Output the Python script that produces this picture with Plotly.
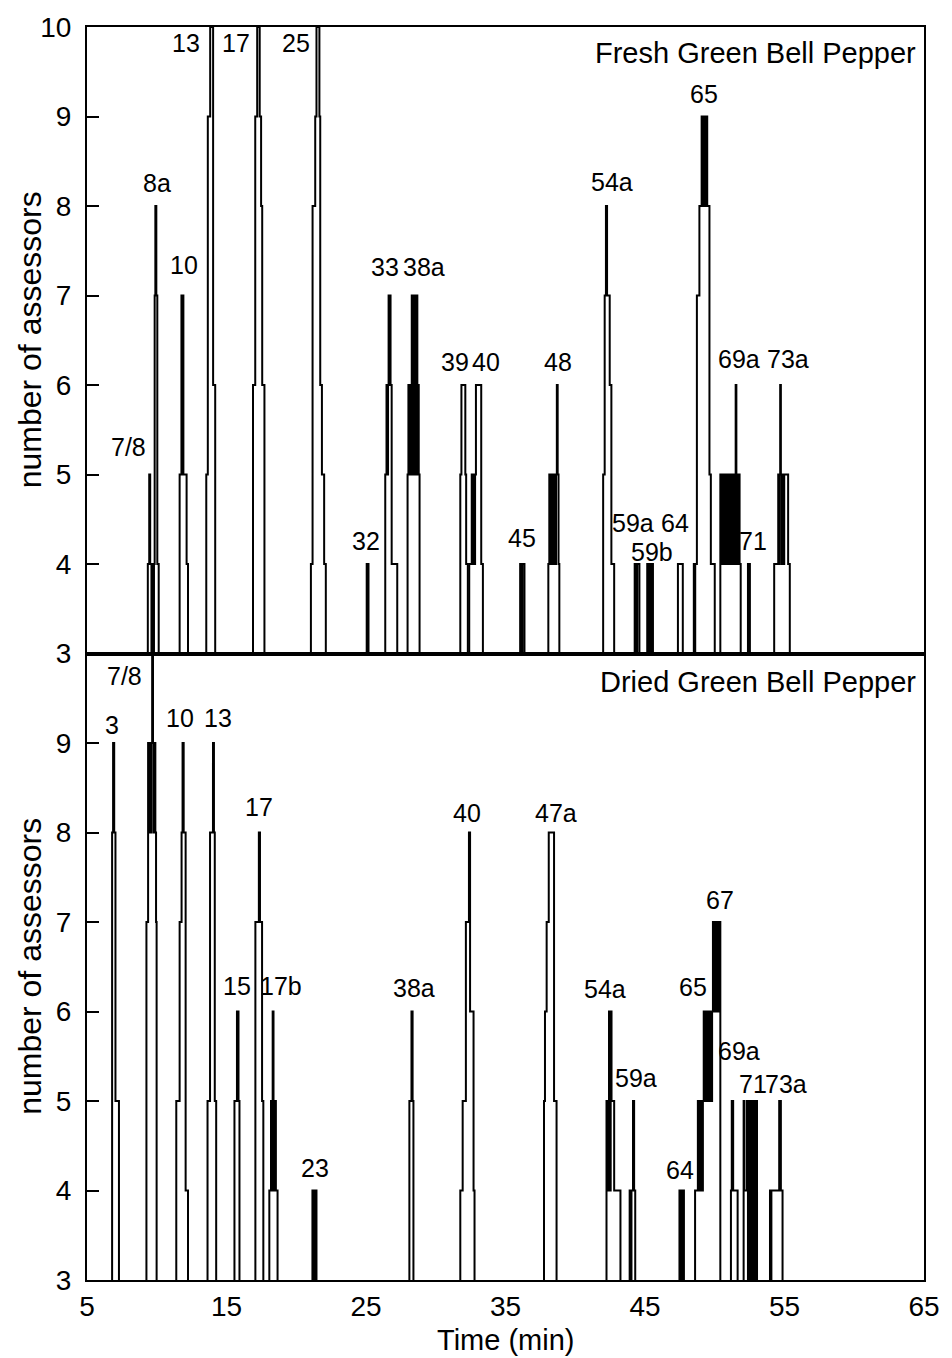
import plotly.graph_objects as go
from plotly.subplots import make_subplots

# Aromagrams: number of assessors detecting an odour vs. retention time.
# Each peak is a step function: at each time (min) the assessor count changes
# to the value given in the matching counts list (last value returns to 0).

# ---- Fresh green bell pepper ----
fresh_times = [
    [9.36, 9.46, 9.53, 9.62, 9.68, 9.76],                                   # 7/8
    [9.8, 9.85, 9.9, 9.97, 10.04, 10.14],                                   # 8a
    [11.64, 11.77, 11.91, 12.14, 12.24],                                    # 10
    [13.55, 13.66, 13.83, 14.04, 14.19],                                    # 13
    [16.9, 17.06, 17.2, 17.38, 17.48, 17.56, 17.72],                        # 17
    [21.05, 21.17, 21.36, 21.45, 21.66, 21.72, 21.84, 22.0, 22.12],         # 25
    [25.05, 25.18],                                                         # 32
    [26.38, 26.47, 26.52, 26.58, 26.62, 26.76, 26.84, 27.24],               # 33
    [27.98, 28.04, 28.1, 28.16, 28.22, 28.28, 28.36, 28.44, 28.52, 28.6,
     28.68, 28.74, 28.78, 28.84],                                           # 38a
    [31.76, 31.84, 32.12, 32.18, 32.3],                                     # 39
    [32.4, 32.58, 32.64, 32.7, 32.76, 32.82, 32.88, 33.26, 33.38],          # 40
    [36.05, 36.14, 36.21, 36.36],                                           # 45
    [38.07, 38.14, 38.2, 38.26, 38.32, 38.38, 38.44, 38.5, 38.56, 38.62,
     38.68, 38.74, 38.8, 38.86],                                            # 48
    [42.0, 42.11, 42.2, 42.28, 42.47, 42.59, 42.79],                        # 54a
    [44.26, 44.36, 44.44, 44.6],                                            # 59a
    [45.16, 45.26, 45.34, 45.44, 45.5, 45.57],                              # 59b
    [47.36, 47.71],                                                         # 64
    [48.5, 48.56, 48.6, 48.72, 48.9, 49.06, 49.12, 49.17, 49.23, 49.28,
     49.34, 49.4, 49.46, 49.62, 49.72, 50.0],                               # 65
    [50.4, 50.48, 50.56, 50.64, 50.72, 50.8, 50.88, 50.96, 51.04, 51.12,
     51.2, 51.28, 51.36, 51.44, 51.5, 51.55, 51.62, 51.7, 51.78, 51.86],    # 69a
    [52.38, 52.52],                                                         # 71
    [54.26, 54.55, 54.6, 54.65, 54.69, 54.74, 54.8, 54.86, 54.92, 54.98,
     55.26, 55.38],                                                         # 73a
]
fresh_counts = [
    [4, 5, 4, 0, 4, 0],
    [4, 7, 8, 7, 4, 0],
    [5, 7, 5, 4, 0],
    [5, 9, 10, 6, 0],
    [6, 9, 10, 9, 8, 6, 0],
    [4, 8, 9, 10, 9, 6, 5, 4, 0],
    [4, 0],
    [5, 6, 5, 6, 7, 6, 4, 0],
    [5, 6, 5, 6, 5, 7, 5, 7, 5, 7, 5, 6, 5, 0],
    [5, 6, 5, 4, 0],
    [4, 5, 4, 5, 4, 5, 6, 4, 0],
    [4, 0, 4, 0],
    [4, 5, 4, 5, 4, 5, 4, 5, 4, 5, 6, 5, 4, 0],
    [5, 7, 8, 7, 6, 4, 0],
    [4, 0, 4, 0],
    [4, 0, 4, 0, 4, 0],
    [4, 0],
    [4, 0, 4, 7, 8, 9, 8, 9, 8, 9, 8, 9, 8, 5, 4, 0],
    [5, 4, 5, 4, 5, 4, 5, 4, 5, 4, 5, 4, 5, 4, 6, 5, 4, 5, 4, 0],
    [4, 0],
    [4, 5, 4, 5, 6, 5, 4, 5, 4, 5, 4, 0],
]
fresh_peak_names = ["13", "17", "25", "8a", "10", "7/8", "32", "33", "38a",
                    "39", "40", "45", "48", "54a", "65", "59a", "59b", "64",
                    "69a", "73a", "71"]

# ---- Dried green bell pepper ----
dried_times = [
    [6.8, 6.87, 6.95, 7.04, 7.29],                                          # 3
    [9.26, 9.38, 9.44, 9.5, 9.56, 9.62, 9.67, 9.73, 9.78, 9.84, 9.9,
     9.95, 9.99],                                                           # 7/8
    [11.4, 11.64, 11.78, 11.85, 11.93, 12.07, 12.24],                       # 10
    [13.64, 13.82, 14.03, 14.1, 14.16, 14.26],                              # 13
    [15.57, 15.75, 15.86, 15.93],                                           # 15
    [17.07, 17.32, 17.4, 17.55, 17.64],                                     # 17
    [18.07, 18.19, 18.25, 18.31, 18.37, 18.43, 18.49, 18.54, 18.66],        # 17b
    [21.16, 21.26, 21.33, 21.45],                                           # 23
    [28.11, 28.26, 28.34, 28.4],                                            # 38a
    [31.76, 31.93, 32.16, 32.38, 32.46, 32.71, 32.78],                      # 40
    [37.76, 37.83, 37.95, 38.1, 38.48, 38.66],                              # 47a
    [42.24, 42.36, 42.42, 42.48, 42.54, 42.6, 42.79, 43.24],                # 54a
    [43.9, 43.97, 44.03, 44.14, 44.22, 44.3],                               # 59a
    [47.47, 47.58, 47.65, 47.79],                                           # 64
    [48.59, 48.79, 48.85, 48.91, 48.97, 49.03, 49.09, 49.15, 49.21, 49.27,
     49.33, 49.39, 49.45, 49.51, 49.57, 49.63, 49.69, 49.75, 49.81, 49.87,
     49.93, 49.99, 50.05, 50.11, 50.17, 50.23, 50.29, 50.35, 50.4],         # 65 / 67
    [51.16, 51.22, 51.32, 51.64],                                           # 69a
    [52.07, 52.13, 52.31, 52.38, 52.44, 52.51, 52.57, 52.64, 52.7, 52.77,
     52.83, 52.9, 52.96, 53.03],                                            # 71
    [53.96, 54.02, 54.06, 54.62, 54.74, 54.86],                             # 73a
]
dried_counts = [
    [8, 9, 8, 5, 0],
    [7, 9, 8, 9, 8, 9, 10, 9, 8, 9, 8, 7, 0],
    [5, 7, 8, 9, 8, 4, 0],
    [5, 8, 9, 8, 5, 0],
    [5, 6, 5, 0],
    [7, 8, 7, 5, 0],
    [4, 5, 4, 6, 5, 4, 5, 4, 0],
    [4, 0, 4, 0],
    [5, 6, 5, 0],
    [4, 5, 7, 8, 6, 4, 0],
    [5, 6, 7, 8, 5, 0],
    [5, 4, 6, 4, 6, 5, 4, 0],
    [4, 0, 4, 5, 4, 0],
    [4, 0, 4, 0],
    [4, 5, 4, 5, 4, 5, 4, 5, 6, 5, 6, 5, 6, 5, 6, 5, 6, 5, 6,
     7, 6, 7, 6, 7, 6, 7, 6, 7, 0],
    [4, 5, 4, 0],
    [5, 4, 5, 0, 5, 0, 5, 0, 5, 0, 5, 0, 5, 0],
    [4, 0, 4, 5, 4, 0],
]
dried_peak_names = ["7/8", "3", "10", "13", "17", "15", "17b", "23", "38a",
                    "40", "47a", "54a", "59a", "64", "65", "67", "69a", "71",
                    "73a"]

y_ticks = [3, 4, 5, 6, 7, 8, 9, 10]
x_ticks = [5, 15, 25, 35, 45, 55, 65]

# ---- Label placement (time, count) for the peak names ----
fresh_name_pos = [
    (12.1, 9.76), (15.65, 9.76), (19.98, 9.76), (10.02, 8.2), (11.93, 7.29),
    (8.0, 5.25), (24.98, 4.2), (26.34, 7.26), (29.14, 7.26), (31.35, 6.2),
    (33.6, 6.2), (36.2, 4.23), (38.79, 6.2), (42.65, 8.21), (49.26, 9.2),
    (44.14, 4.4), (45.5, 4.08), (47.12, 4.4), (51.76, 6.24), (55.27, 6.24),
    (52.71, 4.2),
]
dried_name_pos = [
    (7.66, 9.69), (6.82, 9.14), (11.68, 9.22), (14.36, 9.22), (17.36, 8.23),
    (15.75, 6.23), (18.9, 6.23), (21.36, 4.2), (28.43, 6.21), (32.24, 8.16),
    (38.61, 8.16), (42.12, 6.2), (44.38, 5.2), (47.54, 4.17), (48.43, 6.22),
    (50.39, 7.19), (51.76, 5.5), (52.77, 5.13), (55.1, 5.13),
]

FONT = "Liberation Sans, Arial, Helvetica, sans-serif"
LINE_W = 2
LABEL_SIZE = 25
LABEL_LIFT = 5   # px, text box centre vs. glyph centre

fig = make_subplots(rows=2, cols=1, shared_xaxes=True, vertical_spacing=0)


def add_peaks(times_list, counts_list, row):
    for times, counts in zip(times_list, counts_list):
        xs = [times[0]] + list(times)
        ys = [0] + list(counts)
        fig.add_trace(
            go.Scatter(
                x=xs, y=ys, mode="lines",
                line=dict(color="black", width=LINE_W, shape="hv"),
                hoverinfo="skip", showlegend=False,
            ),
            row=row, col=1,
        )


add_peaks(fresh_times, fresh_counts, 1)
add_peaks(dried_times, dried_counts, 2)

annotations = []
for name, (tx, ty) in zip(fresh_peak_names, fresh_name_pos):
    annotations.append(dict(x=tx, y=ty, xref="x", yref="y", text=name,
                            showarrow=False, xanchor="center", yanchor="middle",
                            yshift=LABEL_LIFT, borderpad=0,
                            font=dict(size=LABEL_SIZE, family=FONT, color="black")))
for name, (tx, ty) in zip(dried_peak_names, dried_name_pos):
    annotations.append(dict(x=tx, y=ty, xref="x2", yref="y2", text=name,
                            showarrow=False, xanchor="center", yanchor="middle",
                            yshift=LABEL_LIFT, borderpad=0,
                            font=dict(size=LABEL_SIZE, family=FONT, color="black")))

# panel titles
annotations.append(dict(x=64.6, y=9.64, xref="x", yref="y",
                        text="Fresh Green Bell Pepper", showarrow=False,
                        xanchor="right", yanchor="middle", yshift=6,
                        font=dict(size=29, family=FONT, color="black")))
annotations.append(dict(x=64.6, y=9.63, xref="x2", yref="y2",
                        text="Dried Green Bell Pepper", showarrow=False,
                        xanchor="right", yanchor="middle", yshift=5,
                        font=dict(size=29, family=FONT, color="black")))

# axis titles
for yc in (0.75, 0.25):
    annotations.append(dict(x=-0.068, y=yc, xref="paper", yref="paper",
                            text="number of assessors", showarrow=False,
                            textangle=-90, xanchor="center", yanchor="middle",
                            font=dict(size=32, family=FONT, color="black")))
annotations.append(dict(x=0.5, y=-0.048, xref="paper", yref="paper",
                        text="Time (min)", showarrow=False,
                        xanchor="center", yanchor="middle",
                        font=dict(size=29, family=FONT, color="black")))

fig.update_layout(
    width=952, height=1358,
    margin=dict(l=87, r=25, t=20, b=78),
    plot_bgcolor="white", paper_bgcolor="white",
    showlegend=False,
    font=dict(family=FONT, color="black"),
    annotations=annotations,
)

axis_common = dict(showline=True, mirror=True, linewidth=2, linecolor="black",
                   showgrid=False, zeroline=False)

fig.update_xaxes(range=[5, 65], tickvals=x_ticks, ticks="", **axis_common)
fig.update_xaxes(showticklabels=False, row=1, col=1)
fig.update_xaxes(tickfont=dict(size=28, family=FONT, color="black"), row=2, col=1)

fig.update_yaxes(range=[3, 10], ticks="inside", ticklen=12, tickwidth=2,
                 tickcolor="black", ticklabelstandoff=8,
                 tickfont=dict(size=28, family=FONT, color="black"),
                 **axis_common)
fig.update_yaxes(tickvals=y_ticks, row=1, col=1)
fig.update_yaxes(tickvals=y_ticks[:-1], row=2, col=1)

fig.write_html("out.html")
